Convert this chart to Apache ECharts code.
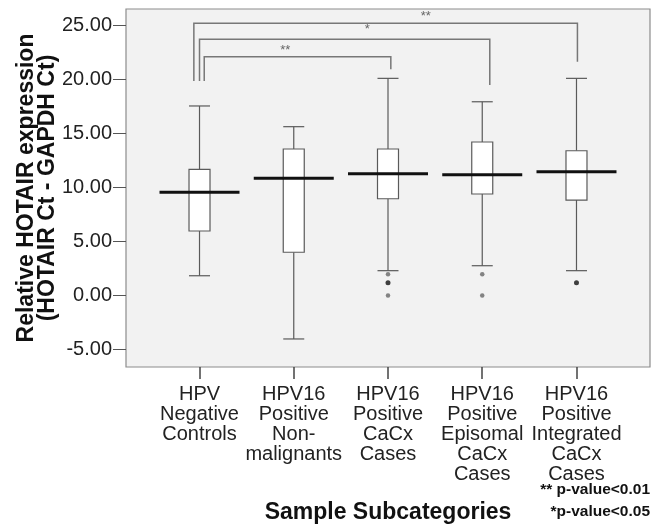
<!DOCTYPE html>
<html>
<head>
<meta charset="utf-8">
<script src="https://cdn.jsdelivr.net/npm/echarts@6/dist/echarts.min.js"></script>
<style>
  html, body { margin: 0; padding: 0; background: #fff; }
  #main { width: 651px; height: 525px; }
</style>
</head>
<body>
<div id="main"></div>
<script>
// categories (x positions 0..4)
var categories = [
  'HPV\nNegative\nControls',
  'HPV16\nPositive\nNon-\nmalignants',
  'HPV16\nPositive\nCaCx\nCases',
  'HPV16\nPositive\nEpisomal\nCaCx\nCases',
  'HPV16\nPositive\nIntegrated\nCaCx\nCases'
];
var categoryPos = [0, 1, 2, 3, 4];

// [pos, low whisker, Q1, median, Q3, high whisker]
var boxValues = [
  [0, 1.82, 5.97, 9.55, 11.69, 17.56],
  [1, -4.04, 4.00, 10.85, 13.57, 15.64],
  [2, 2.29, 8.96, 11.28, 13.57, 20.12],
  [3, 2.75, 9.40, 11.19, 14.22, 17.95],
  [4, 2.29, 8.84, 11.47, 13.41, 20.12]
];

// outliers [pos, value]
var outliersGray = [[2, 1.95], [2, 0.0], [3, 1.95], [3, 0.0]];
var outliersBlack = [[2, 1.18], [4, 1.18]];

// significance brackets [leftX, rightX, topY, leftBottomY, rightBottomY, labelX, labelY]
var brackets = [
  [0.05, 2.03, 22.13, 19.87, 20.96, 0.91, 22.68],
  [0.00, 3.08, 23.74, 19.87, 19.50, 1.78, 24.67],
  [-0.06, 4.01, 25.22, 19.87, 21.66, 2.40, 25.83]
];
var bracketLabels = ['**', '*', '**'];

var yTicks = [-5, 0, 5, 10, 15, 20, 25];

var FONT = "'Liberation Sans', Arial, sans-serif";

var myChart = echarts.init(document.getElementById('main'));

function renderBox(params, api) {
  var x = api.value(0);
  var low = api.coord([x, api.value(1)]);
  var q1 = api.coord([x, api.value(2)]);
  var med = api.coord([x, api.value(3)]);
  var q3 = api.coord([x, api.value(4)]);
  var high = api.coord([x, api.value(5)]);
  var hw = 10.5;   // half box width
  var hm = 40;     // half median width
  var lineStyle = { stroke: '#5a5a5a', lineWidth: 1.2 };
  return {
    type: 'group',
    children: [
      { type: 'line', shape: { x1: low[0], y1: low[1], x2: q1[0], y2: q1[1] }, style: lineStyle },
      { type: 'line', shape: { x1: q3[0], y1: q3[1], x2: high[0], y2: high[1] }, style: lineStyle },
      { type: 'line', shape: { x1: low[0] - hw, y1: low[1], x2: low[0] + hw, y2: low[1] }, style: lineStyle },
      { type: 'line', shape: { x1: high[0] - hw, y1: high[1], x2: high[0] + hw, y2: high[1] }, style: lineStyle },
      { type: 'rect', shape: { x: q3[0] - hw, y: q3[1], width: hw * 2, height: q1[1] - q3[1] },
        style: { fill: '#fff', stroke: '#5a5a5a', lineWidth: 1.2 } },
      { type: 'line', shape: { x1: med[0] - hm, y1: med[1], x2: med[0] + hm, y2: med[1] },
        style: { stroke: '#111', lineWidth: 3 } }
    ]
  };
}

function renderBracket(params, api) {
  var xl = api.value(0), xr = api.value(1);
  var p1 = api.coord([xl, api.value(3)]);
  var p2 = api.coord([xl, api.value(2)]);
  var p3 = api.coord([xr, api.value(2)]);
  var p4 = api.coord([xr, api.value(4)]);
  var lp = api.coord([api.value(5), api.value(6)]);
  return {
    type: 'group',
    children: [
      { type: 'polyline', shape: { points: [p1, p2, p3, p4] },
        style: { stroke: '#777', lineWidth: 1.5, fill: null } },
      { type: 'text', x: lp[0], y: lp[1],
        style: { text: bracketLabels[params.dataIndex], fill: '#666', font: '13px ' + FONT,
                 align: 'center', verticalAlign: 'middle' } }
    ]
  };
}

var option = {
  backgroundColor: '#fff',
  animation: false,
  grid: {
    left: 126, right: 1, top: 9, bottom: 158,
    outerBoundsMode: 'none',
    containLabel: false,
    show: true, backgroundColor: '#f2f2f2', borderColor: '#8c8c8c', borderWidth: 1.2
  },
  xAxis: {
    type: 'value',
    min: -0.78, max: 4.78,
    name: 'Sample Subcategories',
    nameLocation: 'middle',
    nameGap: 146,
    nameMoveOverlap: false,
    nameTextStyle: { fontFamily: FONT, fontSize: 23, fontWeight: 'bold', color: '#111', verticalAlign: 'middle' },
    splitLine: { show: false },
    axisLine: { show: false, onZero: false },
    axisTick: { show: true, customValues: categoryPos, length: 12, lineStyle: { color: '#444', width: 1.5 } },
    axisLabel: {
      customValues: categoryPos,
      margin: 17,
      fontFamily: FONT, fontSize: 20, lineHeight: 20, color: '#222',
      formatter: function (v) { return categories[Math.round(v)]; }
    }
  },
  yAxis: {
    type: 'value',
    min: -6.64, max: 26.55,
    name: 'Relative HOTAIR expression\n(HOTAIR Ct - GAPDH Ct)',
    nameLocation: 'middle',
    nameRotate: 90,
    nameGap: 89,
    nameMoveOverlap: false,
    nameTextStyle: { fontFamily: FONT, fontSize: 23, fontWeight: 'bold', color: '#111',
                     lineHeight: 21, align: 'center', verticalAlign: 'middle' },
    splitLine: { show: false },
    axisLine: { show: false, onZero: false },
    axisTick: { show: true, customValues: yTicks, length: 13, lineStyle: { color: '#555', width: 1 } },
    axisLabel: {
      customValues: yTicks,
      margin: 14,
      fontFamily: FONT, fontSize: 20, color: '#222',
      formatter: function (v) { return v.toFixed(2); }
    }
  },
  graphic: [
    { type: 'text', x: 650, y: 490,
      style: { text: '** p-value<0.01', font: 'bold 15.5px ' + FONT, fill: '#111', align: 'right', verticalAlign: 'middle' } },
    { type: 'text', x: 650, y: 511.5,
      style: { text: '*p-value<0.05', font: 'bold 15.5px ' + FONT, fill: '#111', align: 'right', verticalAlign: 'middle' } }
  ],
  series: [
    { type: 'custom', name: 'brackets', renderItem: renderBracket, data: brackets, z: 2 },
    { type: 'custom', name: 'boxes', renderItem: renderBox, data: boxValues, z: 3 },
    { type: 'scatter', name: 'outliers', data: outliersGray, symbolSize: 4.5, itemStyle: { color: '#666' }, z: 4 },
    { type: 'scatter', name: 'extremes', data: outliersBlack, symbolSize: 5, itemStyle: { color: '#111' }, z: 4 }
  ]
};

myChart.setOption(option, true);
</script>
</body>
</html>
